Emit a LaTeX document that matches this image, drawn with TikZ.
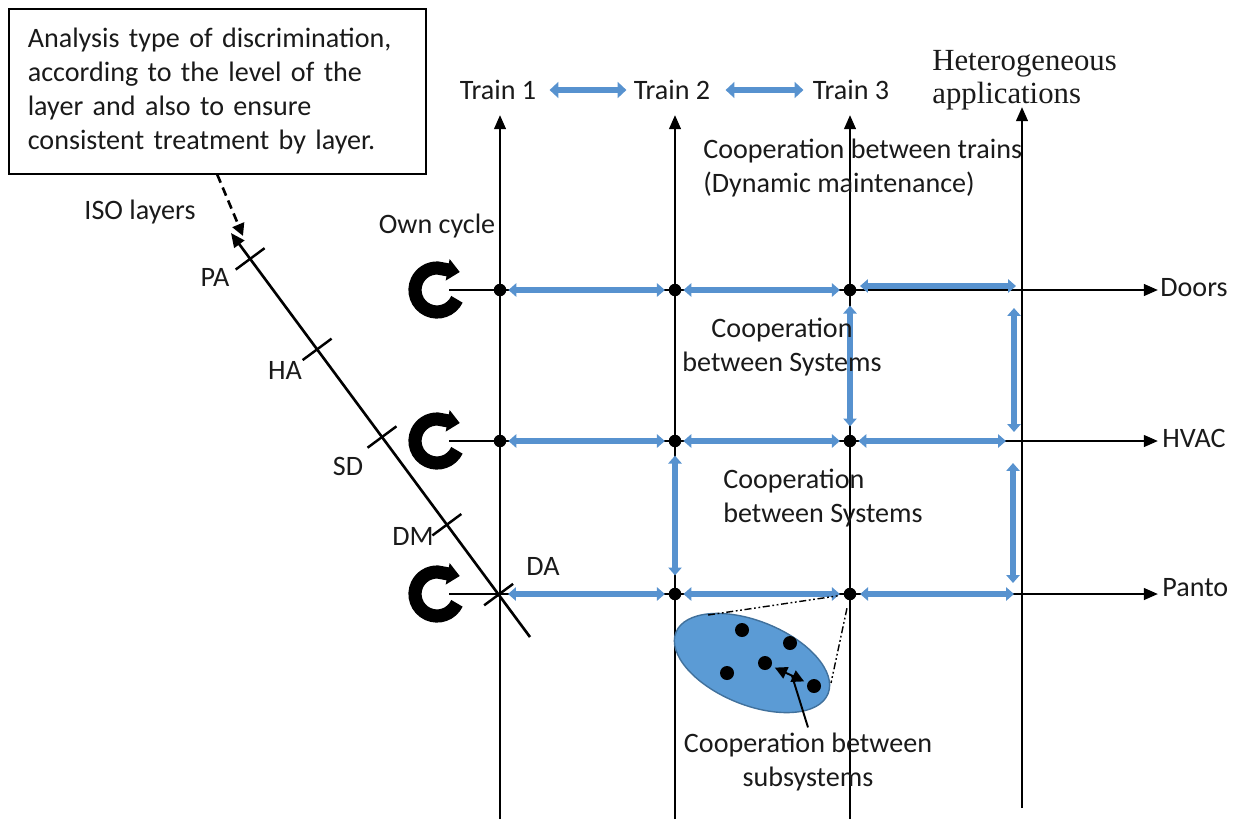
\documentclass[tikz,border=0pt]{standalone}
\usepackage{fontspec}
\setmainfont{Carlito}
\newfontfamily\seriffont{Liberation Serif}
\usetikzlibrary{arrows.meta,shapes.geometric,calc}
\definecolor{arrblue}{HTML}{5792CF}
\definecolor{ellblue}{HTML}{5B9BD5}
\definecolor{arredge}{HTML}{41719C}
\definecolor{txt}{HTML}{1A1A1A}
\begin{document}
\begin{tikzpicture}[x=0.02cm,y=-0.02cm,
  every node/.style={text=txt},
  font=\fontsize{16}{19.3}\selectfont,
  ln/.style={line width=1.5pt, draw=black},
  axis/.style={ln, -{Triangle[length=8pt,width=6.5pt]}},
  blu/.style={draw=arrblue, line width=3.3pt, {Triangle[length=4.5pt,width=7.5pt]}-{Triangle[length=4.5pt,width=7.5pt]}},
  blubig/.style={draw=arrblue, line width=3.4pt, {Triangle[length=5pt,width=9pt]}-{Triangle[length=5pt,width=9pt]}},
  dot/.style={circle, fill=black, inner sep=0pt, minimum size=0.25cm},
  edot/.style={circle, fill=black, inner sep=0pt, minimum size=0.28cm},
  cyc/.style={line width=7.5pt, -{Triangle[length=7pt,width=12pt]}},
  tickln/.style={line width=1.4pt},
  ddot/.style={line width=0.8pt, dash pattern=on 4pt off 1.5pt on 1pt off 1.5pt on 1pt off 1.5pt},
  lbl/.style={inner sep=1pt},
]
\useasboundingbox (0,0) rectangle (1239,819);

% explanatory box
\node[draw, line width=0.9pt, anchor=north west, text width=7.58cm, align=left,
      inner xsep=0.38cm, minimum height=3.3cm] (box) at (8,8)
  {Analysis type of discrimination,\\ according to the level of the\\ layer and also to ensure\\ consistent treatment by layer.};

% train labels
\node[inner sep=0pt] (tr1) at (498,90) {Train 1};
\node[inner sep=0pt] (tr2) at (672,90) {Train 2};
\node[inner sep=0pt] (tr3) at (851,90) {Train 3};
\draw[blubig, shorten <=0.26cm, shorten >=0.14cm] (tr1) -- (tr2);
\draw[blubig, shorten <=0.3cm, shorten >=0.18cm] (tr2) -- (tr3);
\node[anchor=west, align=left, inner sep=0pt, font=\seriffont\fontsize{17.5}{18.8}\selectfont] (het) at (932,80) {Heterogeneous\\applications};

% vertical train axes
\coordinate (t1b) at (500,819); \coordinate (t1t) at (500,115);
\coordinate (t2b) at (675,819); \coordinate (t2t) at (675,115);
\coordinate (t3b) at (850,819); \coordinate (t3t) at (850,115);
\coordinate (t4b) at (1022,808); \coordinate (t4t) at (1022,107);
\draw[axis] (t1b) -- (t1t);
\draw[axis] (t2b) -- (t2t);
\draw[axis] (t3b) -- (t3t);
\draw[axis] (t4b) -- (t4t);

% horizontal system axes
\coordinate (h1s) at (449,290); \coordinate (h1e) at (1158,290);
\coordinate (h2s) at (449,441); \coordinate (h2e) at (1158,441);
\coordinate (h3s) at (449,594); \coordinate (h3e) at (1158,594);
\draw[axis] (h1s) -- (h1e);
\draw[axis] (h2s) -- (h2e);
\draw[axis] (h3s) -- (h3e);
\node[anchor=mid west, inner sep=0pt] (doors) at (1160,292) {Doors};
\node[anchor=mid west, inner sep=0pt] (hvac) at (1162,443) {HVAC};
\node[anchor=mid west, inner sep=0pt] (panto) at (1162,592) {Panto};

% own cycle symbols
\coordinate (cc1) at (437,290);
\coordinate (cc2) at (437,441);
\coordinate (cc3) at (437,594);
\foreach \c in {cc1,cc2,cc3}{
  \draw[cyc] (\c) ++(25:22) arc[start angle=25, end angle=272, radius=22] -- ++(22,4);
}
\node[lbl] (own) at (437,226) {Own cycle};

% intersection dots
\node[dot] (d11) at (500,290) {};
\node[dot] (d12) at (675,290) {};
\node[dot] (d13) at (850,290) {};
\node[dot] (d21) at (500,441) {};
\node[dot] (d22) at (675,441) {};
\node[dot] (d23) at (850,441) {};
\node[dot] (d32) at (675,594) {};
\node[dot] (d33) at (850,594) {};
\coordinate (da) at (500,594);

% blue horizontal cooperation arrows
\draw[blu, shorten <=1pt, shorten >=2pt] (d11) -- (d12);
\draw[blu, shorten <=1pt, shorten >=2pt] (d12) -- (d13);
\coordinate (r1s) at (860,286); \coordinate (r1e) at (1016,286);
\draw[blu] (r1s) -- (r1e);
\draw[blu, shorten <=1pt, shorten >=2pt] (d21) -- (d22);
\draw[blu, shorten <=1pt, shorten >=2pt] (d22) -- (d23);
\coordinate (r2e) at (1006,441);
\draw[blu, shorten <=1pt] (d23) -- (r2e);
\draw[blu, shorten <=0.16cm, shorten >=2pt] (da) -- (d32);
\draw[blu, shorten <=1pt, shorten >=2pt] (d32) -- (d33);
\coordinate (r3e) at (1014,594);
\draw[blu, shorten <=2pt] (d33) -- (r3e);

% blue vertical cooperation arrows
\draw[blu, shorten <=0.18cm, shorten >=0.16cm] (d13) -- (d23);
\coordinate (v1s) at (1014,308); \coordinate (v1e) at (1014,432);
\draw[blu] (v1s) -- (v1e);
\draw[blu, shorten <=0.16cm, shorten >=0.24cm] (d22) -- (d32);
\coordinate (v2s) at (1013,463); \coordinate (v2e) at (1013,583);
\draw[blu] (v2s) -- (v2e);

% cooperation texts
\node[anchor=west, align=left, inner sep=0pt] (ctrains) at (703,168) {Cooperation between trains\\(Dynamic maintenance)};
\node[align=center, inner sep=0pt] (csys1) at (782,347) {Cooperation\\between Systems};
\node[anchor=west, align=left, inner sep=0pt] (csys2) at (723,498) {Cooperation\\between Systems};

% ISO layers axis
\coordinate (isot) at (231,233);
\coordinate (isob) at (530,637);
\draw[ln, -{Triangle[length=8pt,width=7pt]}] (isob) -- (isot);
\coordinate (pa) at ($(isot)!0.064!(isob)$);
\coordinate (ha) at ($(isot)!0.288!(isob)$);
\coordinate (sd) at ($(isot)!0.505!(isob)$);
\coordinate (dm) at ($(isot)!0.722!(isob)$);
\coordinate (dax) at ($(isot)!0.895!(isob)$);
\foreach \c in {pa,ha,sd,dm,dax}{
  \draw[tickln] ($(\c)!0.36cm!90:(isob)$) -- ($(\c)!0.36cm!-90:(isob)$);
}
\node[lbl] (lpa) at (215,277) {PA};
\node[lbl] (lha) at (285,370) {HA};
\node[lbl] (lsd) at (348,466) {SD};
\node[lbl] (ldm) at (413,536) {DM};
\node[lbl] (lda) at (543,566) {DA};
\node[lbl] (iso) at (140,212) {ISO layers};
\coordinate (dsh) at (243,236);
\draw[ln, dash pattern=on 5pt off 3pt, -{Triangle[length=7pt,width=7pt]}] (box.south) -- (dsh);

% subsystems ellipse
\node[ellipse, draw=arredge, fill=ellblue, line width=0.8pt, minimum width=3.28cm,
      minimum height=1.68cm, rotate=-22, inner sep=0pt] (ell) at (752,663) {};
\node[edot] (e1) at (742,630) {};
\node[edot] (e2) at (790,643) {};
\node[edot] (e3) at (765,663) {};
\node[edot] (e4) at (727,673) {};
\node[edot] (e5) at (814,686) {};
\coordinate (et1) at (708,615);
\coordinate (et2) at (831,683);
\draw[ddot, shorten >=0.12cm] (et1) -- (d33);
\draw[ddot, shorten <=0.16cm] (d33) -- (et2);
\node[align=center, inner sep=0pt] (subs) at (808,762) {Cooperation between\\subsystems};
\draw[line width=1.1pt, {Triangle[length=7pt,width=7pt]}-{Triangle[length=7pt,width=7pt]}, shorten <=2pt, shorten >=2pt] (e3) -- (e5);
\coordinate (emid) at ($(e3)!0.55!(e5)$);
\draw[line width=1.1pt] ([yshift=3pt]subs.north) -- (emid);
\end{tikzpicture}
\end{document}
